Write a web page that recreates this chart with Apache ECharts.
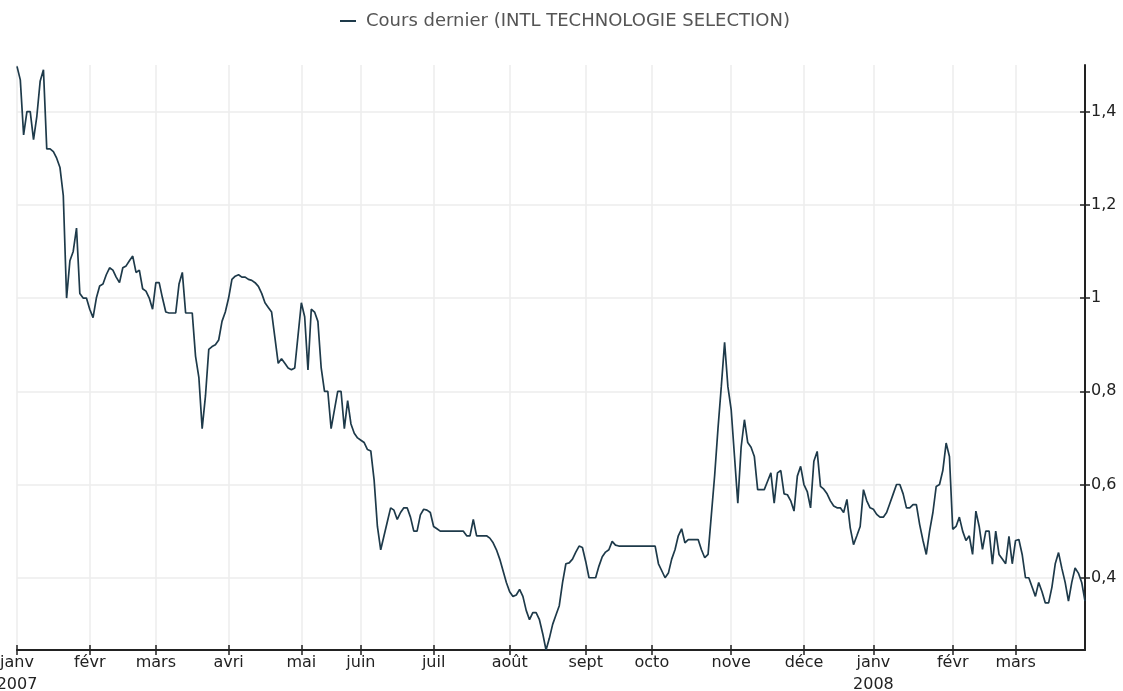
<!DOCTYPE html>
<html><head><meta charset="utf-8">
<script src="https://cdn.jsdelivr.net/npm/echarts@6/dist/echarts.min.js"></script>
<style>html,body{margin:0;padding:0;background:#fff}#c{width:1123px;height:691px}</style>
</head><body><div id="c"></div>
<script>
const seriesName = 'Cours dernier (INTL TECHNOLOGIE SELECTION)';
const monthLabels = ['janv','févr','mars','avri','mai','juin','juil','août','sept','octo','nove','déce','janv','févr','mars'];
const monthStartIdx = [0,22,42,64,86,104,126,149,172,192,216,238,259,283,302];
const yearLabels = ['2007','2008'];
const yearStartIdx = [0,259];
const yTicks = [0.4,0.6,0.8,1.0,1.2,1.4];
const lastPrice = [
1.497,1.468,1.35,1.40,1.40,1.34,1.39,1.465,1.49,1.32,
1.32,1.314,1.30,1.28,1.22,1.00,1.08,1.10,1.15,1.01,
1.00,1.00,0.976,0.958,1.00,1.026,1.03,1.05,1.065,1.06,
1.045,1.033,1.065,1.069,1.08,1.09,1.055,1.06,1.02,1.015,
1.00,0.976,1.033,1.033,1.00,0.97,0.968,0.968,0.968,1.03,
1.055,0.968,0.968,0.968,0.875,0.83,0.72,0.79,0.89,0.896,
0.90,0.91,0.95,0.97,1.00,1.04,1.047,1.05,1.045,1.045,
1.04,1.038,1.033,1.025,1.01,0.99,0.98,0.97,0.915,0.86,
0.87,0.86,0.85,0.846,0.85,0.92,0.99,0.96,0.846,0.976,
0.97,0.95,0.85,0.80,0.80,0.72,0.76,0.80,0.80,0.72,
0.78,0.73,0.71,0.70,0.695,0.69,0.675,0.672,0.61,0.51,
0.46,0.49,0.52,0.55,0.545,0.525,0.54,0.55,0.55,0.53,
0.50,0.50,0.535,0.547,0.545,0.54,0.51,0.505,0.50,0.50,
0.50,0.50,0.50,0.50,0.50,0.50,0.49,0.49,0.525,0.49,
0.49,0.49,0.49,0.485,0.475,0.46,0.44,0.415,0.39,0.37,
0.36,0.363,0.375,0.36,0.33,0.31,0.325,0.325,0.31,0.28,
0.245,0.27,0.30,0.32,0.34,0.39,0.43,0.432,0.44,0.455,
0.468,0.465,0.435,0.40,0.40,0.40,0.425,0.445,0.455,0.46,
0.478,0.47,0.468,0.468,0.468,0.468,0.468,0.468,0.468,0.468,
0.468,0.468,0.468,0.468,0.43,0.415,0.40,0.41,0.44,0.46,
0.49,0.505,0.475,0.482,0.482,0.482,0.482,0.46,0.443,0.45,
0.535,0.62,0.72,0.81,0.905,0.81,0.76,0.66,0.56,0.68,
0.739,0.69,0.68,0.66,0.589,0.589,0.589,0.607,0.625,0.56,
0.625,0.63,0.58,0.578,0.565,0.543,0.618,0.639,0.60,0.585,
0.55,0.65,0.671,0.596,0.59,0.58,0.565,0.554,0.55,0.55,
0.54,0.568,0.507,0.471,0.49,0.51,0.589,0.565,0.55,0.547,
0.536,0.53,0.53,0.54,0.56,0.58,0.60,0.60,0.58,0.55,
0.55,0.557,0.557,0.514,0.48,0.45,0.50,0.54,0.596,0.60,
0.63,0.689,0.66,0.504,0.51,0.53,0.50,0.48,0.49,0.45,
0.543,0.51,0.461,0.50,0.50,0.429,0.50,0.45,0.44,0.43,
0.489,0.43,0.48,0.482,0.45,0.40,0.40,0.38,0.36,0.39,
0.37,0.346,0.346,0.38,0.43,0.454,0.42,0.39,0.35,0.39,
0.421,0.41,0.39,0.35
];

const categories = lastPrice.map((_, i) => String(i));
const labelAt = {};
monthStartIdx.forEach((idx, k) => { labelAt[idx] = monthLabels[k]; });
yearStartIdx.forEach((idx, k) => { labelAt[idx] += '\n' + yearLabels[k]; });
const isMonthStart = (index) => Object.prototype.hasOwnProperty.call(labelAt, index);

const FONT = 'DejaVu Sans';
const AX = '#222';
const yMin = 0.245, yMax = 1.5;

const chart = echarts.init(document.getElementById('c'), null, {renderer: 'canvas'});
chart.setOption({
  animation: false,
  backgroundColor: '#fff',
  legend: {
    data: [seriesName], top: 7, left: 335,
    icon: 'rect', itemWidth: 16, itemHeight: 2, itemGap: 10,
    textStyle: {fontFamily: FONT, fontSize: 18, color: '#555', padding: [0, 0, 0, 5]}
  },
  grid: {left: 17, right: 38, top: 65, bottom: 41, containLabel: false, outerBoundsMode: 'none'},
  xAxis: [{
    type: 'category', data: categories, boundaryGap: false,
    axisLine: {show: true, lineStyle: {color: AX, width: 2}},
    axisTick: {show: true, interval: isMonthStart, length: 5, lineStyle: {color: AX, width: 1.5}},
    axisLabel: {show: true, interval: isMonthStart, formatter: (v, i) => labelAt[i] || '',
      fontFamily: FONT, fontSize: 16, color: AX, margin: 2, lineHeight: 22, hideOverlap: false},
    splitLine: {show: true, interval: isMonthStart, lineStyle: {color: '#ececec', width: 1.5}}
  }, {
    type: 'category', data: categories, boundaryGap: false, position: 'bottom',
    axisLine: {show: false},
    axisTick: {show: true, inside: true, interval: isMonthStart, length: 5, lineStyle: {color: AX, width: 1.5}},
    axisLabel: {show: false}, splitLine: {show: false}
  }],
  yAxis: [{
    type: 'value', position: 'right', min: yMin, max: yMax,
    axisLine: {show: true, lineStyle: {color: AX, width: 2}},
    axisTick: {show: true, length: 5, customValues: yTicks, lineStyle: {color: AX, width: 1.5}},
    axisLabel: {show: true, customValues: yTicks, margin: 6, fontFamily: FONT, fontSize: 16, color: AX,
      formatter: v => String(+(+v).toFixed(1)).replace('.', ',')},
    splitLine: {show: true, lineStyle: {color: '#ececec', width: 1.5}}
  }, {
    type: 'value', position: 'right', min: yMin, max: yMax,
    axisLine: {show: false},
    axisTick: {show: true, inside: true, length: 5, customValues: yTicks, lineStyle: {color: AX, width: 1.5}},
    axisLabel: {show: false}, splitLine: {show: false}
  }],
  series: [{
    name: seriesName, type: 'line', data: lastPrice,
    xAxisIndex: 0, yAxisIndex: 0,
    showSymbol: false, symbol: 'none',
    lineStyle: {color: '#1e3a4a', width: 1.7},
    itemStyle: {color: '#1e3a4a'}
  }]
});
</script></body></html>
